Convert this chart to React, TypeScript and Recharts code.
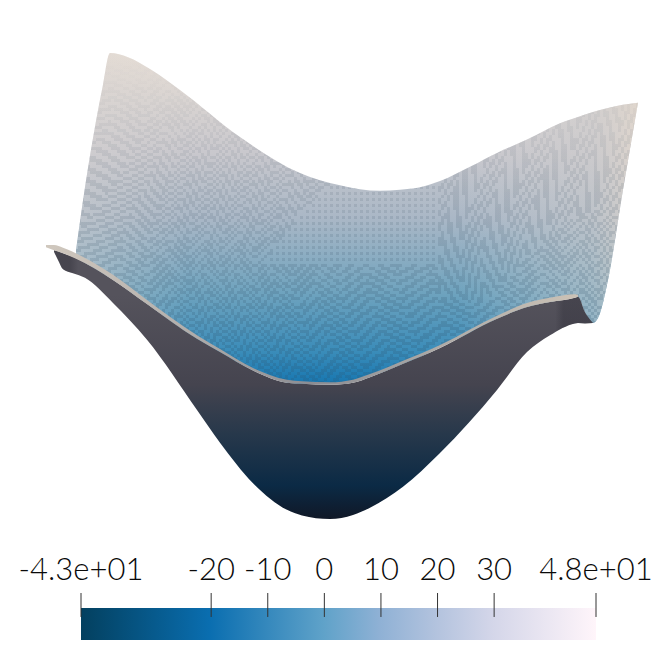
import { Area, ComposedChart, ReferenceLine, XAxis, YAxis } from "recharts";

// back wall of the sheet: position from centre, lower and upper edge
const wallStations = [
  -256, -247, -237, -229, -222, -204, -182, -152, -92, -32, 8, 48, 68,
  88, 108, 138, 165, 195, 228, 246, 253, 261, 268, 276, 291, 306,
];
const wallLower = [
  8.0, 7.0, 5.8, 4.9, 4.1, 1.7, -1.4, -5.7, -12.7, -16.6, -16.6, -14.5, -12.9,
  -11.4, -9.3, -6.7, -3.9, -1.6, -0.2, 0.4, -2.6, -4.7, -2.8, 3.7, 21.3, 38.3,
];
const wallUpper = [
  9.5, 21.8, 33.6, 41.8, 48.0, 47.2, 44.9, 40.8, 31.6, 24.6, 22.2, 21.1, 21.3,
  21.8, 23.0, 25.8, 28.5, 31.1, 34.3, 35.5, 36.0, 36.5, 36.9, 37.3, 37.9, 38.3,
];

// front face, hanging below the rim
const frontStations = [
  -278, -274, -269, -259, -247, -219, -185, -135, -112, -79, -45, -30,
  -2, 21, 38, 71, 108, 165, 195, 218, 243, 246, 253, 261,
];
const frontLower = [
  9.2, 7.6, 5.8, 5.0, 4.1, -0.8, -8.0, -21.7, -28.1, -36.0, -41.2, -42.3,
  -43.0, -42.2, -40.8, -36.7, -30.1, -17.8, -10.4, -7.1, -4.8, -4.7, -4.8, -4.7,
];
const frontUpper = [
  9.5, 9.3, 8.9, 8.2, 7.0, 3.7, -1.0, -7.8, -10.4, -14.0, -16.4, -16.6,
  -16.8, -16.4, -15.3, -12.7, -9.6, -3.9, -1.6, -0.6, 0.2, 0.4, -2.6, -4.7,
];

// pale rim along the front edge
const rimStations = [
  -286, -278, -269, -247, -219, -185, -135, -112, -79, -45, -30,
  -2, 21, 38, 71, 108, 165, 195, 218, 243, 246,
];
const rimLower = [
  10.1, 9.5, 8.9, 7.0, 3.7, -1.0, -7.8, -10.4, -14.0, -16.4, -16.6,
  -16.8, -16.4, -15.3, -12.7, -9.6, -3.9, -1.6, -0.6, 0.2, 0.4,
];
const rimUpper = [
  10.5, 10.5, 10.0, 8.0, 4.7, -0.2, -7.1, -9.8, -13.5, -15.8, -16.1,
  -16.3, -15.8, -14.7, -12.1, -9.0, -3.3, -0.8, 0.2, 0.9, 0.8,
];

const scaleMin = -43;
const scaleMax = 48;
const scaleTicks = [-43, -20, -10, 0, 10, 20, 30, 48];
const scaleLabels = ["-4.3e+01", "-20", "-10", "0", "10", "20", "30", "4.8e+01"];
const scaleBand = [
  { value: scaleMin, band: 1 },
  { value: scaleMax, band: 1 },
];

const toRows = (xs: number[], lows: number[], highs: number[]) =>
  xs.map((x, i) => ({ x, range: [lows[i], highs[i]] }));

const wallRows = toRows(wallStations, wallLower, wallUpper);
const frontRows = toRows(frontStations, frontLower, frontUpper);
const rimRows = toRows(rimStations, rimLower, rimUpper);

const tri = (t: number) => Math.abs((((t % 2) + 2) % 2) - 1);

// blocky interference texture of the two overlapping meshes (decoration only)
function buildMoire() {
  let d = "";
  for (let j = 15; j < 128; j++) {
    let start = -1;
    for (let i = 20; i <= 215; i++) {
      const u = i - 110;
      const v = j - 60;
      const mix = Math.sin(u / 23 + 1) + Math.sin(v / 17 + u / 40);
      const wobble = u + 6 * Math.sin(v / 17);
      let on: boolean;
      if (i > 145 && j < 100 && mix > -0.6) {
        // coarse angular blocks, upper right
        on = Math.floor(v * 0.28 + u * 0.12 + 5 * tri(wobble / 7)) % 2 === 0;
      } else if (mix > 0.9 && j < 88) {
        // sparse dots, only higher up the wall
        on = i % 2 === 0 && j % 2 === 0;
      } else {
        // chevrons
        on = Math.floor(v * 0.72 + 4.5 * tri(wobble / (8 + 2 * Math.sin(u / 31)))) % 2 === 0;
      }
      if (on && start < 0) start = i;
      if (!on && start >= 0) {
        d += `M${start * 3} ${j * 3}h${(i - start) * 3}v3h${(start - i) * 3}z`;
        start = -1;
      }
    }
  }
  return d;
}
const moirePath = buildMoire();

function ScaleTick({ x, y, index }: { x?: number; y?: number; index?: number }) {
  return (
    <text
      x={x}
      y={(y || 0) - 1}
      textAnchor="middle"
      fontFamily="Lato, sans-serif"
      fontWeight={300}
      fontSize={31}
      fill="#0a0a0a"
    >
      {scaleLabels[index ?? 0]}
    </text>
  );
}

export default function App() {
  return (
    <div style={{ position: "absolute", left: 0, top: 0, width: 665, height: 651, background: "#fff" }}>
      <ComposedChart width={665} height={540} margin={{ top: 0, right: 0, bottom: 0, left: 0 }}>
        <defs>
          <linearGradient id="wallFill" x1="0" y1="53" x2="0" y2="385" gradientUnits="userSpaceOnUse">
            <stop offset="0" stopColor="#e7ded5" />
            <stop offset="0.3" stopColor="#c9c8cd" />
            <stop offset="0.5" stopColor="#a9b7c6" />
            <stop offset="0.72" stopColor="#6fa3be" />
            <stop offset="0.9" stopColor="#3a8cb9" />
            <stop offset="1" stopColor="#1676b0" />
          </linearGradient>
          <linearGradient id="wallSides" x1="76" y1="0" x2="638" y2="0" gradientUnits="userSpaceOnUse">
            <stop offset="0" stopColor="#d8d4d2" stopOpacity="0.4" />
            <stop offset="0.2" stopColor="#d8d4d2" stopOpacity="0" />
            <stop offset="0.68" stopColor="#cfcfd2" stopOpacity="0" />
            <stop offset="0.92" stopColor="#cfcdcc" stopOpacity="0.5" />
            <stop offset="1" stopColor="#e3d8cd" stopOpacity="0.8" />
          </linearGradient>
          <linearGradient id="moireShade" x1="0" y1="60" x2="0" y2="340" gradientUnits="userSpaceOnUse">
            <stop offset="0" stopColor="#4c5d6c" stopOpacity="0" />
            <stop offset="0.15" stopColor="#4c5d6c" stopOpacity="0.04" />
            <stop offset="0.45" stopColor="#4c5d6c" stopOpacity="0.14" />
            <stop offset="1" stopColor="#2c5470" stopOpacity="0.22" />
          </linearGradient>
          <pattern id="moire" width="665" height="540" patternUnits="userSpaceOnUse">
            <path d={moirePath} fill="url(#moireShade)" />
          </pattern>
          <linearGradient id="frontFill" x1="0" y1="295" x2="0" y2="519" gradientUnits="userSpaceOnUse">
            <stop offset="0" stopColor="#55535c" />
            <stop offset="0.4" stopColor="#45444f" />
            <stop offset="0.62" stopColor="#27384b" />
            <stop offset="0.85" stopColor="#0b2a45" />
            <stop offset="1" stopColor="#101827" />
          </linearGradient>
          <linearGradient id="frontCaps" x1="54" y1="0" x2="593" y2="0" gradientUnits="userSpaceOnUse">
            <stop offset="0" stopColor="#15151f" stopOpacity="0.22" />
            <stop offset="0.03" stopColor="#15151f" stopOpacity="0.22" />
            <stop offset="0.045" stopColor="#15151f" stopOpacity="0" />
            <stop offset="0.93" stopColor="#15151f" stopOpacity="0" />
            <stop offset="0.945" stopColor="#15151f" stopOpacity="0.22" />
            <stop offset="1" stopColor="#15151f" stopOpacity="0.22" />
          </linearGradient>
          <linearGradient id="rimFill" x1="46" y1="0" x2="578" y2="0" gradientUnits="userSpaceOnUse">
            <stop offset="0" stopColor="#d0c8be" />
            <stop offset="0.25" stopColor="#b5b0ac" />
            <stop offset="0.5" stopColor="#8b8c92" />
            <stop offset="0.75" stopColor="#b0aca8" />
            <stop offset="1" stopColor="#cbc2b6" />
          </linearGradient>
        </defs>
        <XAxis dataKey="x" type="number" domain={[-332, 333]} allowDataOverflow hide />
        <YAxis type="number" domain={[-47.1, 58.37]} hide allowDataOverflow />
        <Area data={wallRows} dataKey="range" type="monotone" stroke="none" fill="url(#wallFill)" fillOpacity={1} dot={false} activeDot={false} isAnimationActive={false} />
        <Area data={wallRows} dataKey="range" type="monotone" stroke="none" fill="url(#wallSides)" fillOpacity={1} dot={false} activeDot={false} isAnimationActive={false} />
        <Area data={wallRows} dataKey="range" type="monotone" stroke="none" fill="url(#moire)" fillOpacity={1} dot={false} activeDot={false} isAnimationActive={false} />
        <Area data={frontRows} dataKey="range" type="monotone" stroke="none" fill="url(#frontFill)" fillOpacity={1} dot={false} activeDot={false} isAnimationActive={false} />
        <Area data={frontRows} dataKey="range" type="monotone" stroke="none" fill="url(#frontCaps)" fillOpacity={1} dot={false} activeDot={false} isAnimationActive={false} />
        <Area data={rimRows} dataKey="range" type="monotone" stroke="none" fill="url(#rimFill)" fillOpacity={1} dot={false} activeDot={false} isAnimationActive={false} />
      </ComposedChart>
      <div style={{ position: "absolute", left: 0, top: 540 }}>
        <ComposedChart width={665} height={111} data={scaleBand} margin={{ top: 13, right: 69, bottom: 11, left: 81 }}>
          <defs>
            <linearGradient id="scaleFill" x1="0" y1="0" x2="1" y2="0">
              <stop offset="0" stopColor="#03405f" />
              <stop offset="0.25" stopColor="#0a6eb0" />
              <stop offset="0.47" stopColor="#5fa2c9" />
              <stop offset="0.58" stopColor="#8fb1d5" />
              <stop offset="0.69" stopColor="#b3c3de" />
              <stop offset="0.8" stopColor="#d4d6e9" />
              <stop offset="1" stopColor="#fff5fa" />
            </linearGradient>
          </defs>
          <XAxis
            dataKey="value"
            type="number"
            orientation="top"
            domain={[scaleMin, scaleMax]}
            ticks={scaleTicks}
            interval={0}
            height={40}
            tick={<ScaleTick />}
            tickLine={false}
            axisLine={false}
            tickMargin={6}
          />
          <YAxis type="number" domain={[0, 1.47]} hide allowDataOverflow />
          <Area dataKey="band" type="linear" stroke="none" fill="url(#scaleFill)" fillOpacity={1} dot={false} activeDot={false} isAnimationActive={false} />
          {scaleTicks.map((t) => (
            <ReferenceLine key={t} stroke="#333" strokeWidth={1} segment={[{ x: t, y: 1.47 }, { x: t, y: 0.72 }]} />
          ))}
        </ComposedChart>
      </div>
    </div>
  );
}
